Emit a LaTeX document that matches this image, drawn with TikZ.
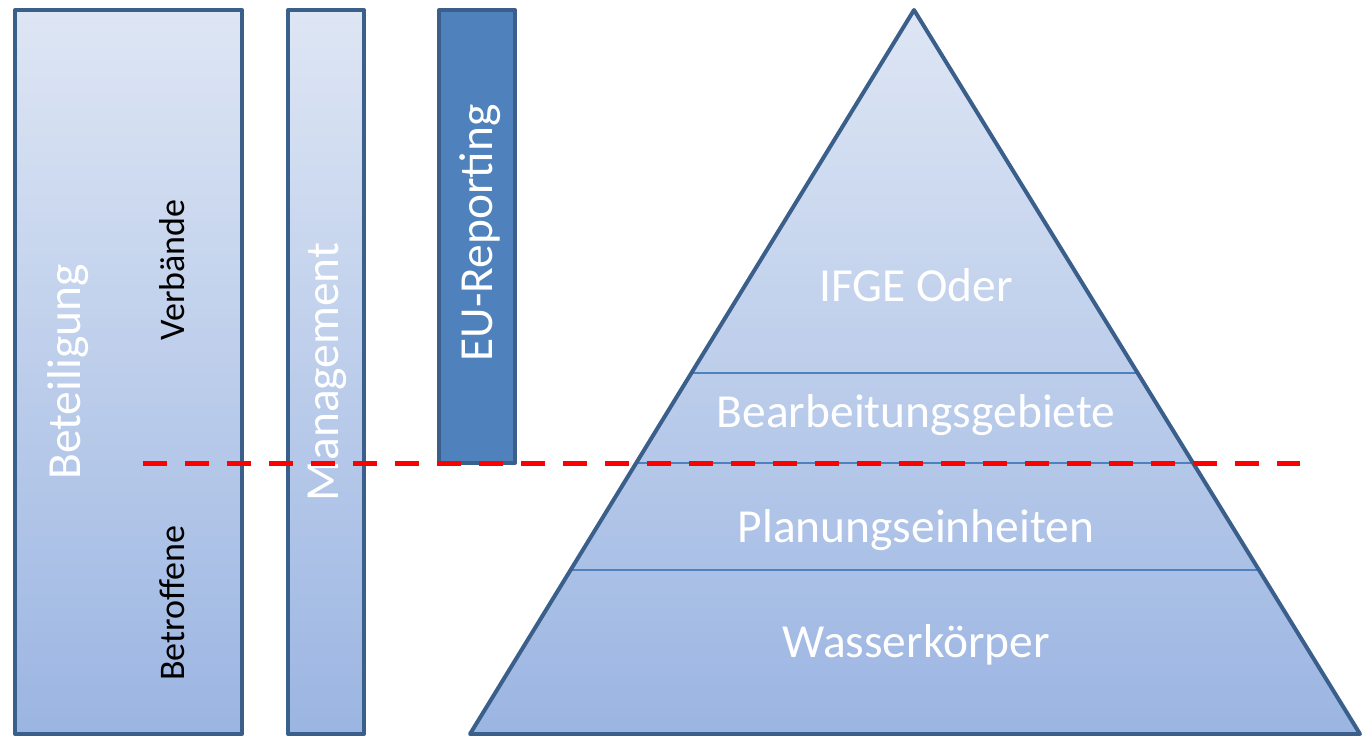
\documentclass[tikz,border=0pt]{standalone}
\usepackage{fontspec}
\setmainfont{Carlito}
\definecolor{borda}{RGB}{58,95,139}
\definecolor{topo}{RGB}{222,230,244}
\definecolor{fundo}{RGB}{155,181,226}
\definecolor{azul}{RGB}{79,129,189}
\tikzset{
 contorno/.style={draw=borda, line width=0.08cm, line join=round},
 caixa/.style={contorno, top color=topo, bottom color=fundo},
 grande/.style={text=white, font=\fontsize{27}{31}\selectfont},
 pequeno/.style={text=black, font=\fontsize{20.5}{24}\selectfont},
}
\begin{document}
\begin{tikzpicture}[x=0.02cm,y=-0.02cm]
 \useasboundingbox (0,0) rectangle (1368,736);
%colunas da esquerda
 \shade[caixa] (15,10) rectangle (242,734);
 \shade[caixa] (288,10) rectangle (364,734);
 \filldraw[contorno, fill=azul] (439,10) rectangle (515,463);
%textos das colunas
 \node[grande, rotate=90] (beteiligung) at (68,372) {Beteiligung};
 \node[pequeno, rotate=90] (verbaende) at (172,270) {Verbände};
 \node[pequeno, rotate=90] (betroffene) at (172,603) {Betroffene};
 \node[grande, rotate=90] (management) at (327,372) {Management};
 \node[grande, rotate=90] (eureporting) at (480,233) {EU-Reporting};
%pirâmide
 \shade[top color=topo, bottom color=fundo] (914,10) -- (1360,734) -- (470,734) -- cycle;
 \draw[azul, line width=0.04cm] (691,373) -- (1138,373);
 \draw[azul, line width=0.04cm] (636,463) -- (1191,463);
 \draw[azul, line width=0.04cm] (571,570) -- (1259,570);
 \draw[contorno] (914,10) -- (1360,734) -- (470,734) -- cycle;
%níveis da pirâmide
 \node[grande, anchor=base] (ifge) at (916,301) {IFGE Oder};
 \node[grande, anchor=base] (bearbeitung) at (916,427) {Bearbeitungsgebiete};
 \node[grande, anchor=base] (planung) at (916,542) {Planungseinheiten};
 \node[grande, anchor=base] (wasser) at (916,657) {Wasserkörper};
%linha tracejada
 \coordinate (inicio) at (143,463);
 \coordinate (fim) at (1300,463);
 \draw[red, line width=0.1cm, dash pattern=on 0.48cm off 0.36cm] (inicio) -- (fim);
\end{tikzpicture}
\end{document}
